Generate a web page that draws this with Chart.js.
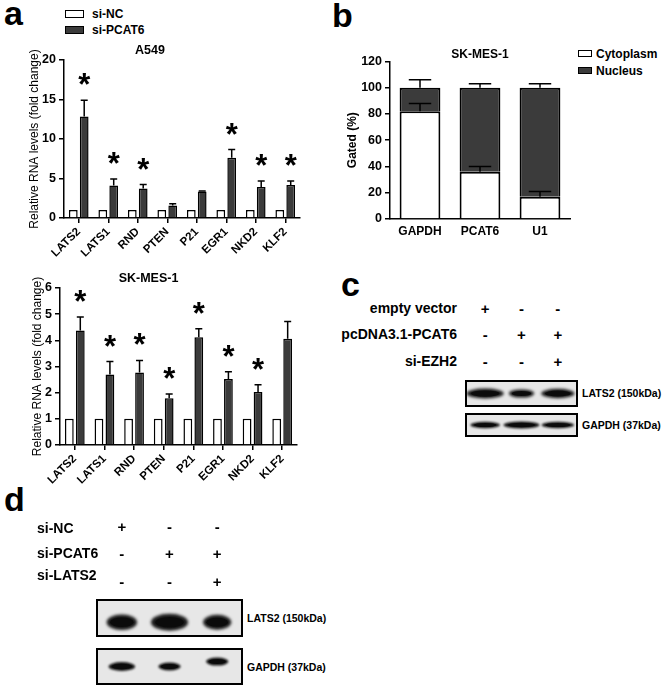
<!DOCTYPE html>
<html>
<head>
<meta charset="utf-8">
<script src="https://cdn.jsdelivr.net/npm/chart.js@4.4.1/dist/chart.umd.min.js"></script>
<style>
  body { margin: 0; background: #fff; }
  #page { position: relative; width: 664px; height: 688px; overflow: hidden; font-family: Arial, "Liberation Sans", sans-serif; color: #000; }
  canvas { position: absolute; }
  .letter { position: absolute; font-weight: bold; font-size: 34px; line-height: 34px; }
  .legend { position: absolute; font-weight: bold; font-size: 12px; }
  .legend .row { display: flex; align-items: center; }
  .swatch { display: inline-block; border: 1.5px solid #000; }
  .blot { position: absolute; border: 2px solid #000; box-sizing: border-box; background: #e7e7e7; }
  .blot canvas { left: 0; top: 0; }
  .cond { position: absolute; font-weight: bold; font-size: 14px; white-space: nowrap; line-height: 1; transform: translateY(-50%); }
  .sign { position: absolute; font-weight: bold; font-size: 15px; line-height: 1; transform: translate(-50%, -50%); }
  .blotLabel { position: absolute; font-weight: bold; font-size: 10.5px; white-space: nowrap; line-height: 1; transform: translateY(-50%); }
</style>
</head>
<body>
<div id="page">
  <div class="letter" style="left:4px;top:-4px">a</div>
  <div class="letter" style="left:332px;top:-2px">b</div>
  <div class="letter" style="left:341px;top:267px">c</div>
  <div class="letter" style="left:4px;top:482px">d</div>

  <div class="legend" id="legendA" style="left:65px;top:6px"></div>
  <div class="legend" id="legendB" style="left:578px;top:45px"></div>

  <canvas id="chartA549" width="340" height="240" style="left:0;top:40px"></canvas>
  <canvas id="chartSK" width="326" height="240" style="left:0;top:268px"></canvas>
  <canvas id="chartFrac" width="245" height="205" style="left:330px;top:40px"></canvas>

  <div class="blot" style="left:465px;top:380px;width:113px;height:27px"><canvas id="blotC1" width="109" height="23"></canvas></div>
  <div class="blot" style="left:465px;top:413px;width:113px;height:24px"><canvas id="blotC2" width="109" height="20"></canvas></div>
  <div class="blot" style="left:96px;top:599px;width:147px;height:38px"><canvas id="blotD1" width="143" height="34"></canvas></div>
  <div class="blot" style="left:96px;top:648px;width:147px;height:37px"><canvas id="blotD2" width="143" height="33"></canvas></div>

  <div class="blotLabel" style="left:582px;top:393px">LATS2 (150kDa)</div>
  <div class="blotLabel" style="left:582px;top:425px">GAPDH (37kDa)</div>
  <div class="blotLabel" style="left:247px;top:618px">LATS2 (150kDa)</div>
  <div class="blotLabel" style="left:247px;top:667px">GAPDH (37kDa)</div>
</div>

<script>
// qPCR, fold change
const genes = ['LATS2', 'LATS1', 'RND', 'PTEN', 'P21', 'EGR1', 'NKD2', 'KLF2'];
const a549NC = [1, 1, 1, 1, 1, 1, 1, 1];
const a549PCAT6 = [12.85, 4.1, 3.72, 1.59, 3.35, 7.62, 3.93, 4.18];
const a549PCAT6Err = [2.05, 0.84, 0.51, 0.21, 0.08, 1.04, 0.76, 0.51];
const a549Sig = [true, true, true, false, false, true, true, true];

const skNC = [1, 1, 1, 1, 1, 1, 1, 1];
const skPCAT6 = [4.38, 2.69, 2.77, 1.79, 4.12, 2.52, 2.03, 4.06];
const skPCAT6Err = [0.51, 0.5, 0.46, 0.16, 0.32, 0.28, 0.27, 0.66];
const skSig = [true, true, true, true, true, true, true, false];

// subcellular fractionation
const fracGenes = ['GAPDH', 'PCAT6', 'U1'];
const cytoplasm = [82, 36, 17];
const cytoplasmErr = [6, 4, 4];
const nucleus = [18, 64, 83];
const nucleusErr = [6, 3, 3];

// western blots (relative band density)
const lanes = ['1', '2', '3'];
const cConditions = ['empty vector', 'pcDNA3.1-PCAT6', 'si-EZH2'];
const cSigns = [['+', '-', '-'], ['-', '+', '+'], ['-', '-', '+']];
const cLats2 = [1.0, 0.68, 0.9];
const cGapdh = [0.82, 1.0, 0.9];
const dConditions = ['si-NC', 'si-PCAT6', 'si-LATS2'];
const dSigns = [['+', '-', '-'], ['-', '+', '+'], ['-', '-', '+']];
const dLats2 = [0.82, 1.0, 0.76];
const dGapdh = [0.95, 0.8, 0.8];
const dGapdhShift = [0, 0, 0.3];

const DARK = '#3b3b3b';

// error bars drawn on top of bars
const errorBars = {
  id: 'errorBars',
  afterDatasetsDraw(chart, args, opts) {
    const ctx = chart.ctx;
    const y = chart.scales.y;
    ctx.save();
    ctx.strokeStyle = '#000';
    ctx.lineWidth = 1.5;
    chart.data.datasets.forEach((ds, di) => {
      if (!ds.errors) return;
      chart.getDatasetMeta(di).data.forEach((bar, i) => {
        const top = y.getValueForPixel(bar.y);
        const yTop = y.getPixelForValue(top + ds.errors[i]);
        const half = bar.width * opts.cap / 2;
        ctx.beginPath();
        ctx.moveTo(bar.x, bar.y);
        ctx.lineTo(bar.x, yTop);
        ctx.moveTo(bar.x - half, yTop);
        ctx.lineTo(bar.x + half, yTop);
        ctx.stroke();
      });
    });
    ctx.restore();
  }
};

// significance stars
const stars = {
  id: 'stars',
  afterDatasetsDraw(chart, args, opts) {
    if (!opts.sig) return;
    const ctx = chart.ctx;
    const y = chart.scales.y;
    const ds = chart.data.datasets[1];
    ctx.save();
    ctx.fillStyle = '#000';
    ctx.font = 'bold 31px Arial, "Liberation Sans"';
    ctx.textAlign = 'center';
    ctx.textBaseline = 'alphabetic';
    chart.getDatasetMeta(1).data.forEach((bar, i) => {
      if (!opts.sig[i]) return;
      const yTop = y.getPixelForValue(ds.data[i] + ds.errors[i]);
      ctx.fillText('*', bar.x, yTop - 23 + 18);
    });
    ctx.restore();
  }
};

const axisBase = {
  grid: { drawOnChartArea: false, color: '#000', lineWidth: 1.5, tickLength: 5 },
  border: { color: '#000', width: 1.5 }
};

function rnaChart(id, title, nc, si, siErr, sig, yMax, yStep, yWidth, xHeight, titlePad, rightPad) {
  return new Chart(document.getElementById(id), {
    type: 'bar',
    data: {
      labels: genes,
      datasets: [
        { label: 'si-NC', data: nc, backgroundColor: '#fff', borderColor: '#000', borderWidth: 1.5 },
        { label: 'si-PCAT6', data: si, errors: siErr, backgroundColor: DARK, borderColor: '#000', borderWidth: 1.5 }
      ]
    },
    options: {
      responsive: false,
      animation: false,
      datasets: { bar: { categoryPercentage: 0.74, barPercentage: 0.8 } },
      layout: { padding: { top: 3, right: rightPad, left: 0, bottom: 0 } },
      plugins: {
        legend: { display: false },
        tooltip: { enabled: false },
        title: { display: true, text: title, color: '#000', font: { size: 12.5, weight: 'bold', family: 'Arial' }, padding: { top: 0, bottom: 2 } },
        errorBars: { cap: 0.8 },
        stars: { sig: sig }
      },
      scales: {
        x: {
          ...axisBase,
          grid: { ...axisBase.grid, offset: false },
          ticks: { color: '#000', font: { size: 11.5, weight: 'bold', family: 'Arial' }, minRotation: 45, maxRotation: 45, autoSkip: false, padding: 2 },
          afterFit: s => { s.height = xHeight; }
        },
        y: {
          ...axisBase,
          min: 0, max: yMax,
          ticks: { stepSize: yStep, color: '#000', font: { size: 12.5, weight: 'bold', family: 'Arial' }, padding: 3 },
          title: { display: true, text: 'Relative RNA levels (fold change)', color: '#000', font: { size: 12, family: 'Arial' }, padding: { top: titlePad, bottom: 0 } },
          afterFit: s => { s.width = yWidth; }
        }
      }
    },
    plugins: [errorBars, stars]
  });
}

rnaChart('chartA549', 'A549', a549NC, a549PCAT6, a549PCAT6Err, a549Sig, 20, 5, 64, 62, 27, 40);
rnaChart('chartSK', 'SK-MES-1', skNC, skPCAT6, skPCAT6Err, skSig, 6, 1, 60, 63, 30, 29);

new Chart(document.getElementById('chartFrac'), {
  type: 'bar',
  data: {
    labels: fracGenes,
    datasets: [
      { label: 'Cytoplasm', data: cytoplasm, errors: cytoplasmErr, backgroundColor: '#fff', borderColor: '#000', borderWidth: 2 },
      { label: 'Nucleus', data: nucleus, errors: nucleusErr, backgroundColor: DARK, borderColor: '#000', borderWidth: 2 }
    ]
  },
  options: {
    responsive: false,
    animation: false,
    datasets: { bar: { categoryPercentage: 1, barPercentage: 0.68 } },
    layout: { padding: { top: 7, right: 5, left: 0, bottom: 0 } },
    plugins: {
      legend: { display: false },
      tooltip: { enabled: false },
      title: { display: true, fullSize: false, text: 'SK-MES-1', color: '#000', font: { size: 12, weight: 'bold', family: 'Arial' }, padding: 0 },
      errorBars: { cap: 0.55 }
    },
    scales: {
      x: {
        stacked: true,
        grid: { display: false, drawTicks: false },
        border: { color: '#000', width: 1.5 },
        ticks: { color: '#000', font: { size: 12, weight: 'bold', family: 'Arial' }, padding: 5 },
        afterFit: s => { s.height = 26; }
      },
      y: {
        ...axisBase,
        stacked: true,
        min: 0, max: 120,
        ticks: { stepSize: 20, color: '#000', font: { size: 12.5, weight: 'bold', family: 'Arial' }, padding: 3 },
        title: { display: true, text: 'Gated (%)', color: '#000', font: { size: 12, weight: 'bold', family: 'Arial' }, padding: { top: 15, bottom: 0 } },
        afterFit: s => { s.width = 60; }
      }
    }
  },
  plugins: [errorBars]
});

// legends
function legend(el, items, sw) {
  items.forEach(it => {
    const row = document.createElement('div');
    row.className = 'row';
    row.style.height = sw.row + 'px';
    const box = document.createElement('span');
    box.className = 'swatch';
    box.style.width = sw.w + 'px';
    box.style.height = sw.h + 'px';
    box.style.marginRight = sw.gap + 'px';
    box.style.background = it.color;
    const txt = document.createElement('span');
    txt.textContent = it.label;
    row.appendChild(box);
    row.appendChild(txt);
    el.appendChild(row);
  });
}
legend(document.getElementById('legendA'), [{ label: 'si-NC', color: '#fff' }, { label: 'si-PCAT6', color: DARK }], { w: 17, h: 6, gap: 8, row: 16 });
legend(document.getElementById('legendB'), [{ label: 'Cytoplasm', color: '#fff' }, { label: 'Nucleus', color: DARK }], { w: 12, h: 5, gap: 4, row: 17 });

// blot bands
const bands = {
  id: 'bands',
  afterDatasetsDraw(chart, args, opts) {
    const ctx = chart.ctx;
    const ds = chart.data.datasets[0];
    ctx.save();
    chart.getDatasetMeta(0).data.forEach((pt, i) => {
      const v = ds.density[i];
      const w = opts.width * v;
      const h = opts.height * (0.45 + 0.55 * v);
      ctx.filter = 'blur(' + opts.blur + 'px)';
      ctx.fillStyle = 'rgba(12,12,12,0.95)';
      ctx.beginPath();
      ctx.ellipse(pt.x, pt.y, w / 2, h / 2, 0, 0, Math.PI * 2);
      ctx.fill();
      ctx.filter = 'blur(0.6px)';
      ctx.beginPath();
      ctx.ellipse(pt.x, pt.y, w / 2.6, h / 3.2, 0, 0, Math.PI * 2);
      ctx.fill();
    });
    ctx.restore();
  }
};

function blot(id, density, shift, size) {
  return new Chart(document.getElementById(id), {
    type: 'line',
    data: { labels: lanes, datasets: [{ data: shift, density: density, showLine: false, pointRadius: 0 }] },
    options: {
      responsive: false,
      animation: false,
      layout: { padding: 0 },
      plugins: { legend: { display: false }, tooltip: { enabled: false }, bands: size },
      scales: {
        x: { display: false, offset: true },
        y: { display: false, min: -1, max: 1 }
      }
    },
    plugins: [bands]
  });
}

const bC1 = blot('blotC1', cLats2, [0, 0, 0], { width: 37, height: 10, blur: 1.5 });
blot('blotC2', cGapdh, [0, 0, 0], { width: 36, height: 7, blur: 1.2 });
const bD1 = blot('blotD1', dLats2, [-0.25, -0.25, -0.25], { width: 37, height: 17, blur: 1.8 });
blot('blotD2', dGapdh, dGapdhShift, { width: 28, height: 9, blur: 1.3 });

// condition tables, signs placed over the blot lanes
const page = document.getElementById('page');
function addText(cls, text, x, y, extra) {
  const d = document.createElement('div');
  d.className = cls;
  d.textContent = text;
  d.style.top = y + 'px';
  if (extra === 'right') { d.style.right = (664 - x) + 'px'; } else { d.style.left = x + 'px'; }
  page.appendChild(d);
  return d;
}
function conditionTable(chart, blotLeft, names, signs, labelX, align, rowsY, signRowsY) {
  const xs = lanes.map((l, i) => blotLeft + 2 + chart.scales.x.getPixelForValue(i));
  names.forEach((name, r) => {
    addText('cond', name, labelX, rowsY[r], align);
    signs[r].forEach((s, c) => addText('sign', s, xs[c], signRowsY[r]));
  });
}
conditionTable(bC1, 465, cConditions, cSigns, 457, 'right', [308, 334, 361], [308, 334, 361]);
conditionTable(bD1, 96, dConditions, dSigns, 37, 'left', [528, 553, 575], [526, 553, 581]);
</script>
</body>
</html>
